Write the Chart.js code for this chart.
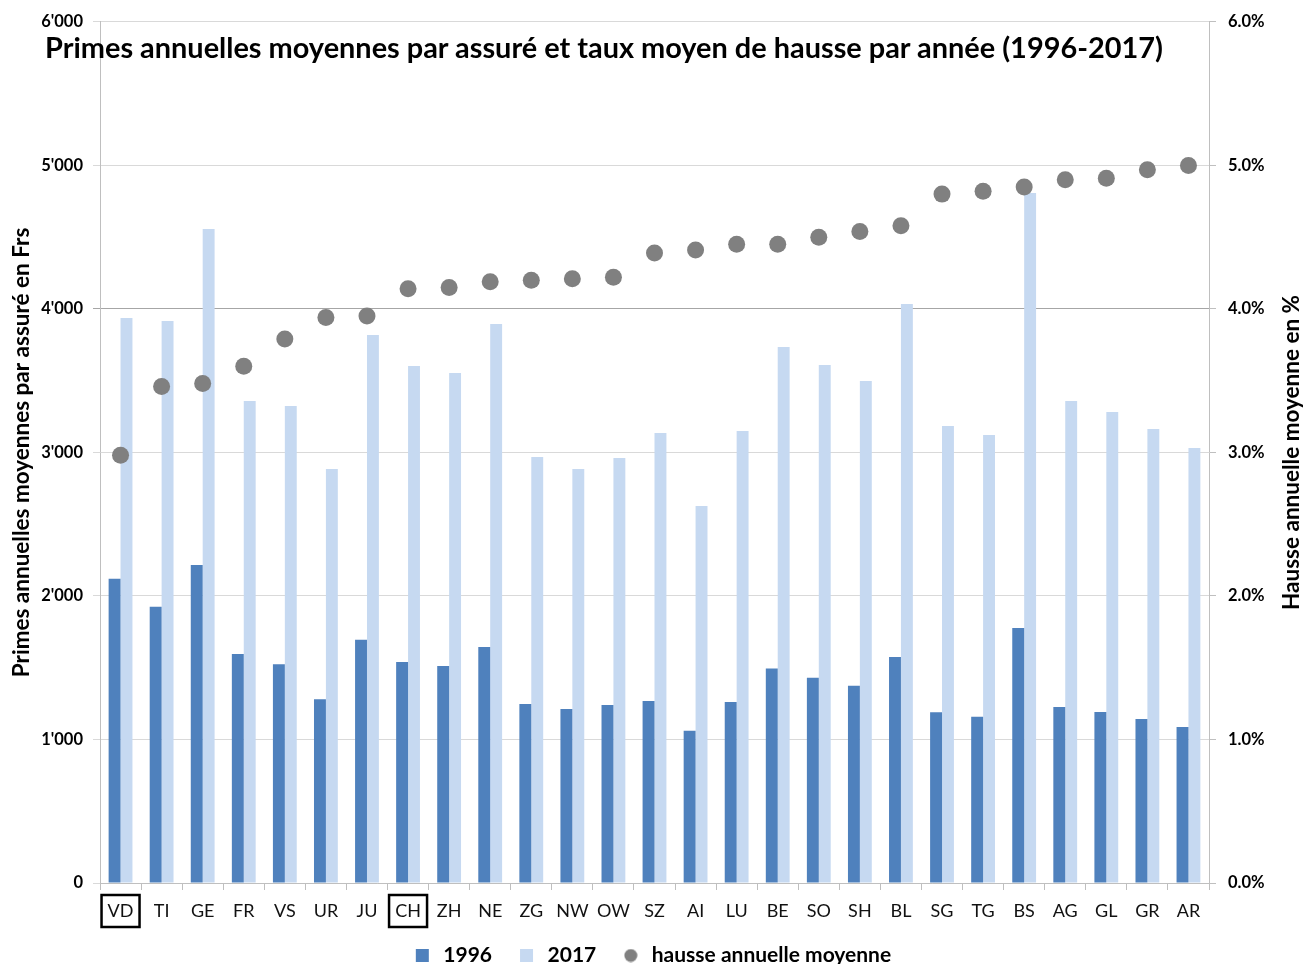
<!DOCTYPE html>
<html>
<head>
<meta charset="utf-8">
<script src="https://cdn.jsdelivr.net/npm/chart.js@4"></script>
<style>
  body { margin: 0; background: #fff; }
  #wrap { position: relative; width: 1303px; height: 964px; }
  #title {
    position: absolute; left: 45px; top: 29px;
    font: bold 28.9px Lato, sans-serif; color: #000; white-space: nowrap;
  }
</style>
</head>
<body>
<div id="wrap">
  <canvas id="primes-chart"></canvas>
  <div id="title">Primes annuelles moyennes par assuré et taux moyen de hausse par année (1996-2017)</div>
</div>
<script>
const cantons = ['VD', 'TI', 'GE', 'FR', 'VS', 'UR', 'JU', 'CH', 'ZH', 'NE', 'ZG', 'NW', 'OW',
  'SZ', 'AI', 'LU', 'BE', 'SO', 'SH', 'BL', 'SG', 'TG', 'BS', 'AG', 'GL', 'GR', 'AR'];
const primes1996 = [2120, 1925, 2215, 1595, 1525, 1280, 1695, 1540, 1512, 1645, 1248, 1213, 1240,
  1268, 1060, 1262, 1495, 1430, 1375, 1575, 1190, 1158, 1777, 1227, 1192, 1143, 1087];
const primes2017 = [3937, 3916, 4557, 3359, 3324, 2885, 3819, 3603, 3554, 3895, 2969, 2885, 2962,
  3136, 2627, 3150, 3735, 3610, 3498, 4035, 3185, 3122, 4808, 3359, 3282, 3164, 3031];
const hausse = [2.98, 3.46, 3.48, 3.60, 3.79, 3.94, 3.95, 4.14, 4.15, 4.19, 4.20, 4.21, 4.22,
  4.39, 4.41, 4.45, 4.45, 4.50, 4.54, 4.58, 4.80, 4.82, 4.85, 4.90, 4.91, 4.97, 5.00];
const boxedCantons = ['VD', 'CH'];

const blue1996 = '#4F81BD';
const blue2017 = '#C6D9F1';
const grey = '#808080';

// small round marker for the legend entry of the dots
const dotImg = document.createElement('canvas');
dotImg.width = 14; dotImg.height = 14;
const dctx = dotImg.getContext('2d');
dctx.fillStyle = grey;
dctx.beginPath(); dctx.arc(7, 7, 6.5, 0, Math.PI * 2); dctx.fill();

function swissNumber(v) {
  return v === 0 ? '0' : Math.floor(v / 1000) + "'" + String(v % 1000).padStart(3, '0');
}

// boxes around VD and CH labels, right axis title (reads bottom to top)
const extras = {
  id: 'extras',
  afterDraw(chart) {
    const ctx = chart.ctx;
    const x = chart.scales.x;
    ctx.save();
    ctx.strokeStyle = '#000';
    ctx.lineWidth = 2.5;
    boxedCantons.forEach(c => {
      const cx = x.getPixelForValue(cantons.indexOf(c));
      ctx.strokeRect(cx - 19, x.top + 12, 38, 32);
    });
    const y1 = chart.scales.y1;
    ctx.translate(1292, (y1.top + y1.bottom) / 2);
    ctx.rotate(-Math.PI / 2);
    ctx.font = 'bold 22.5px Lato, sans-serif';
    ctx.fillStyle = '#000';
    ctx.textAlign = 'center';
    ctx.textBaseline = 'middle';
    ctx.fillText('Hausse annuelle moyenne en %', 0, 0);
    ctx.restore();
  }
};

new Chart(document.getElementById('primes-chart'), {
  type: 'bar',
  data: {
    labels: cantons,
    datasets: [
      { label: '1996', data: primes1996, backgroundColor: blue1996, yAxisID: 'y', order: 1 },
      { label: '2017', data: primes2017, backgroundColor: blue2017, yAxisID: 'y', order: 1 },
      {
        type: 'line', label: 'hausse annuelle moyenne', data: hausse, yAxisID: 'y1',
        showLine: false, pointRadius: 8.5, pointBackgroundColor: grey, pointBorderWidth: 0,
        borderColor: grey, order: -1
      }
    ]
  },
  options: {
    responsive: true,
    maintainAspectRatio: false,
    animation: false,
    categoryPercentage: 0.58,
    barPercentage: 1,
    layout: { padding: { top: 11, bottom: -12 } },
    scales: {
      x: {
        grid: { display: true, drawOnChartArea: false, tickLength: 7, color: '#BFBFBF' },
        border: { color: '#BFBFBF' },
        ticks: { font: { family: 'Lato', size: 18 }, color: '#111', padding: 10, maxRotation: 0, autoSkip: false },
        afterFit(scale) { scale.height = 38; }
      },
      y: {
        position: 'left',
        min: 0, max: 6000,
        ticks: { stepSize: 1000, callback: v => swissNumber(v), font: { family: 'Lato', size: 16.5, weight: 'bold' }, color: '#000', padding: 10 },
        grid: { tickLength: 7, color: ctx => ctx.tick && ctx.tick.value === 4000 ? '#A6A6A6' : '#D9D9D9' },
        border: { color: '#BFBFBF' },
        title: { display: true, text: 'Primes annuelles moyennes par assuré en Frs', font: { family: 'Lato', size: 22.5, weight: 'bold' }, color: '#000', padding: { top: 8, bottom: 0 } },
        afterFit(scale) { scale.width = 100; }
      },
      y1: {
        position: 'right',
        min: 0, max: 6,
        ticks: { stepSize: 1, callback: v => v.toFixed(1) + '%', font: { family: 'Lato', size: 16.5, weight: 'bold' }, color: '#000', padding: 12 },
        grid: { drawOnChartArea: false, tickLength: 7, color: '#BFBFBF' },
        border: { color: '#BFBFBF' },
        afterFit(scale) { scale.width = 94; }
      }
    },
    plugins: {
      tooltip: { enabled: false },
      legend: {
        position: 'bottom',
        labels: {
          usePointStyle: true,
          boxHeight: 13,
          padding: 24,
          font: { family: 'Lato', size: 21, weight: 'bold' },
          color: '#000',
          generateLabels(chart) {
            const items = Chart.defaults.plugins.legend.labels.generateLabels(chart);
            items.sort((a, b) => a.datasetIndex - b.datasetIndex);
            items.forEach(it => {
              it.pointStyle = it.datasetIndex === 2 ? dotImg : 'rect';
              it.lineWidth = 0;
            });
            return items;
          }
        }
      }
    }
  },
  plugins: [extras]
});
</script>
</body>
</html>
